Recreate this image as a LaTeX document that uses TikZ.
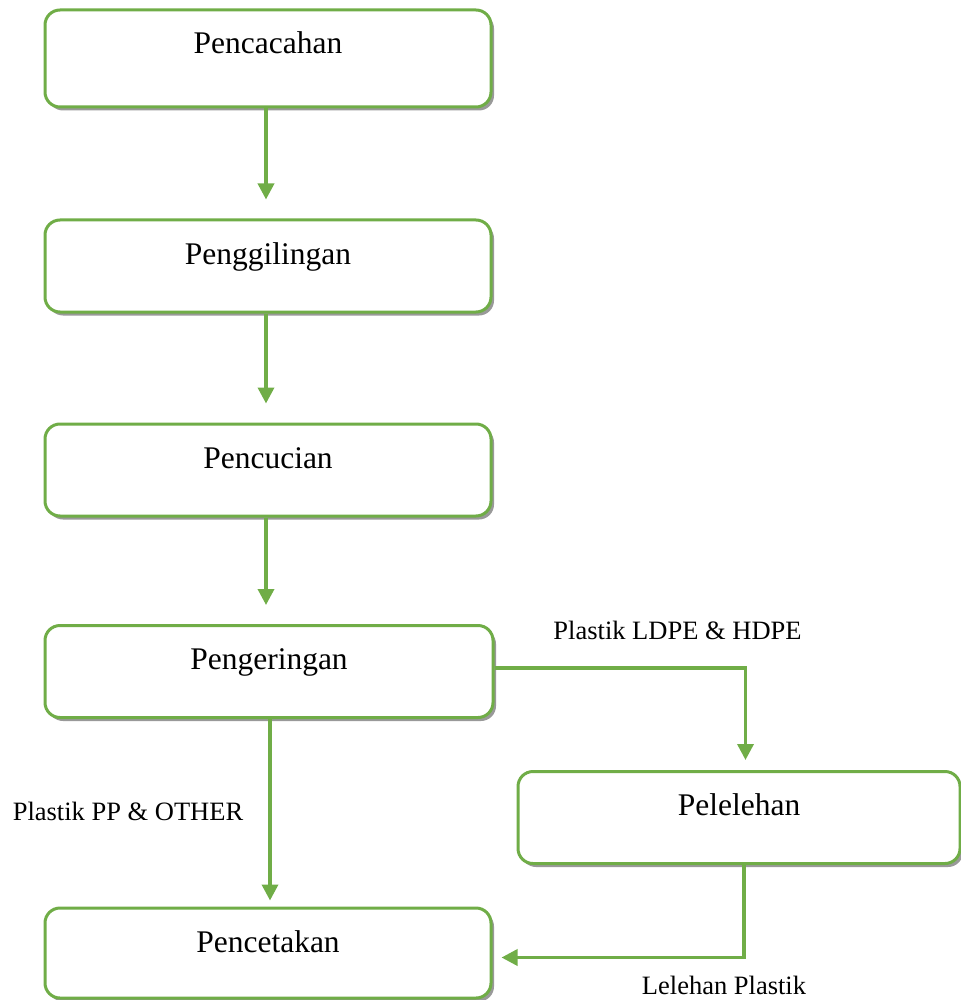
\documentclass[tikz,border=0pt]{standalone}
\usepackage{fontspec}
\setmainfont{Liberation Serif}
\usetikzlibrary{arrows.meta,shadows}
\definecolor{flowgreen}{RGB}{112,173,71}
\begin{document}
\begin{tikzpicture}[x=1pt,y=-1pt,
  box/.style={draw=flowgreen, line width=3pt, rounded corners=15pt, fill=white,
    drop shadow={shadow xshift=3pt, shadow yshift=-3.5pt, fill=black, opacity=0.4},
    minimum width=446pt, inner sep=0pt, text height=44pt, text depth=48pt,
    font=\fontsize{31.5}{36}\selectfont},
  arr/.style={draw=flowgreen, line width=3.5pt, -{Triangle[length=16pt,width=16pt]}},
  lbl/.style={inner sep=0pt, font=\fontsize{26.5}{30}\selectfont}]
\useasboundingbox (0,0) rectangle (960,1000);
\node[box, text depth=53pt] (b1) at (268,58.5) {Pencacahan};
\node[box] (b2) at (268,266) {Penggilingan};
\node[box] (b3) at (268,470) {Pencucian};
\node[box, minimum width=448pt] (b4) at (269,671.5) {Pengeringan};
\node[box, minimum width=442pt] (b5) at (739,817.5) {Pelelehan};
\node[box, text depth=46pt] (b6) at (268,953) {Pencetakan};

\draw[arr, shorten >=19pt] ([xshift=-2pt]b1.south) -- ([xshift=-2pt]b2.north);
\draw[arr, shorten >=19pt] ([xshift=-2pt]b2.south) -- ([xshift=-2pt]b3.north);
\draw[arr, shorten >=19pt] ([xshift=-2pt]b3.south) -- ([xshift=-3pt]b4.north);
\draw[arr, shorten >=6pt] ([xshift=1pt]b4.south) -- ([xshift=2pt]b6.north);
\draw[arr, shorten >=10pt] ([yshift=3.5pt]b4.east) -| ([xshift=6.5pt]b5.north);
\draw[arr, shorten >=9pt] ([xshift=5pt]b5.south) |- ([yshift=-4.5pt]b6.east);

\node[lbl] (l1) at (677.5,630) {Plastik LDPE \& HDPE};
\node[lbl] (l2) at (128,811) {Plastik PP \& OTHER};
\node[lbl] (l3) at (724,985) {Lelehan Plastik};
\end{tikzpicture}
\end{document}
